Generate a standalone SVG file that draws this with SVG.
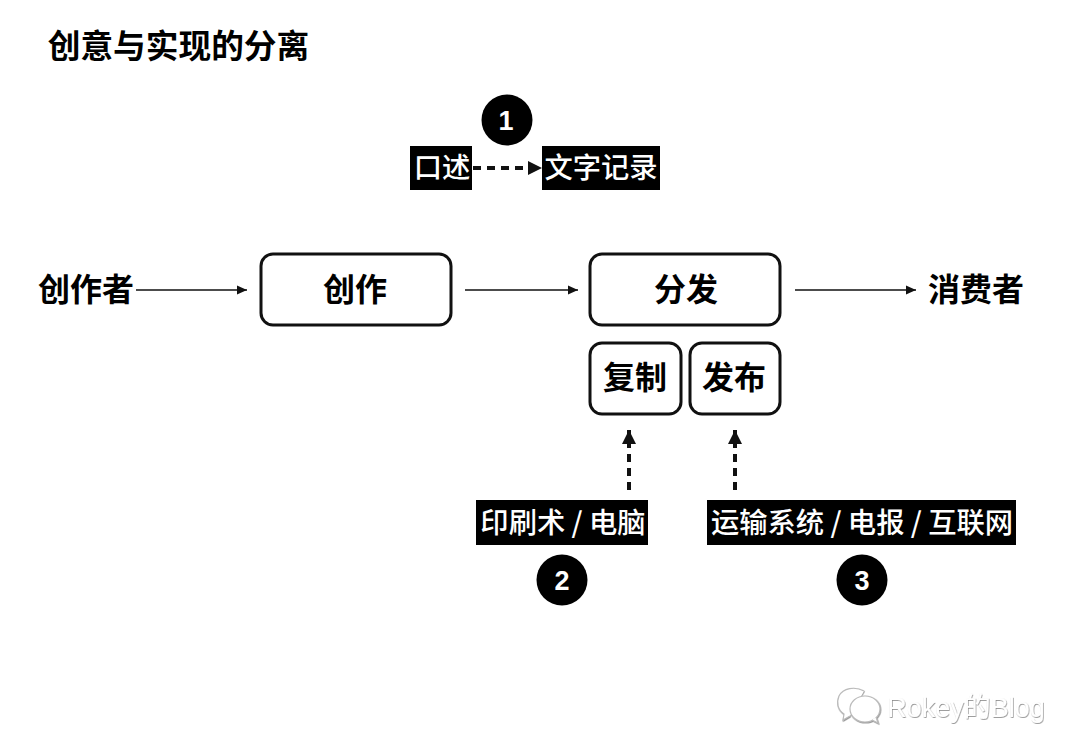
<svg xmlns="http://www.w3.org/2000/svg" width="1080" height="756" viewBox="0 0 1080 756">
<style>
text{font-family:"Noto Sans CJK SC","Liberation Sans",sans-serif;text-anchor:middle}
.b{font-weight:700;fill:#000;font-size:32px}
.w{font-weight:500;fill:#fff;font-size:28.3px}
.box{fill:#fff;stroke:#111;stroke-width:3}
.blk{fill:#000}
.n{font-family:"Liberation Sans",sans-serif;font-weight:700;fill:#fff;font-size:27px}
.line{fill:none;stroke:#111;stroke-width:1.6}
.dash{fill:none;stroke:#111;stroke-width:4;stroke-dasharray:8 6}
</style>
<defs>
<marker id="a" markerUnits="userSpaceOnUse" markerWidth="12" markerHeight="12" refX="10" refY="6" orient="auto"><path d="M0 1.5L10 6L0 10.5Z" fill="#111"/></marker>
<marker id="d" markerUnits="userSpaceOnUse" markerWidth="15" markerHeight="15" refX="14" refY="7.5" orient="auto"><path d="M0 0.5L14 7.5L0 14.5Z" fill="#111"/></marker>
<filter id="s" x="-5%" y="-20%" width="110%" height="140%"><feDropShadow dx="0.6" dy="0.8" stdDeviation="0.5" flood-color="#666" flood-opacity="0.8"/></filter>
</defs>
<rect width="1080" height="756" fill="#fff"/>
<text id="title" x="178.500" y="58" class="b" style="font-size:32.700px">创意与实现的分离</text>
<g id="connectors">
<path class="line" marker-end="url(#a)" d="M136 290H247"/>
<path class="line" marker-end="url(#a)" d="M465 290H578"/>
<path class="line" marker-end="url(#a)" d="M795 290H916"/>
<path class="dash" marker-end="url(#d)" d="M473 168H542"/>
<path class="dash" marker-end="url(#d)" d="M629 490V430"/>
<path class="dash" marker-end="url(#d)" d="M735 490V430"/>
</g>
<g id="creator"><text x="86" y="301" class="b">创作者</text></g>
<g id="create"><rect class="box" x="261" y="254" width="190" height="71" rx="12"/><text x="355" y="301" class="b">创作</text></g>
<g id="distribute"><rect class="box" x="590" y="254" width="190" height="71" rx="12"/><text x="686" y="301" class="b">分发</text></g>
<g id="consumer"><text x="976" y="301" class="b">消费者</text></g>
<g id="copy"><rect class="box" x="590" y="343" width="91" height="71" rx="12"/><text x="635" y="389" class="b">复制</text></g>
<g id="publish"><rect class="box" x="690" y="343" width="90" height="71" rx="12"/><text x="734" y="389" class="b">发布</text></g>
<g id="oral"><rect class="blk" x="410" y="146" width="62" height="44"/><text x="442" y="178" class="w">口述</text></g>
<g id="written"><rect class="blk" x="542" y="146" width="118" height="44"/><text x="601" y="178" class="w">文字记录</text></g>
<g id="print"><rect class="blk" x="476" y="500" width="172" height="45"/><text x="563" y="533" class="w">印刷术 / 电脑</text></g>
<g id="transport"><rect class="blk" x="707" y="500" width="309" height="45"/><text x="862" y="533" class="w">运输系统 / 电报 / 互联网</text></g>
<g id="n1"><circle cx="507" cy="120" r="25.500" fill="#000"/><text x="506" y="130" class="n">1</text></g>
<g id="n2"><circle cx="562" cy="580" r="25.500" fill="#000"/><text x="562" y="590" class="n">2</text></g>
<g id="n3"><circle cx="862" cy="580" r="25.500" fill="#000"/><text x="862" y="590" class="n">3</text></g>
<g id="watermark" filter="url(#s)">
<path d="M864 691c-9-5-21-3-25 5c-3 7-1 14 5 18l-1 6l7-4" fill="#fff" stroke="#bbb" stroke-width="1.2"/>
<ellipse cx="865" cy="709" rx="15" ry="13" fill="#fff" stroke="#bbb" stroke-width="1.2"/>
<path d="M872 720l6 3l-2-6" fill="#fff" stroke="#bbb" stroke-width="1.2"/>
<text x="966" y="717" style="font-size:27px;fill:#fff;font-family:'Liberation Sans','Noto Sans CJK SC',sans-serif">Rokey的Blog</text>
</g>
</svg>
